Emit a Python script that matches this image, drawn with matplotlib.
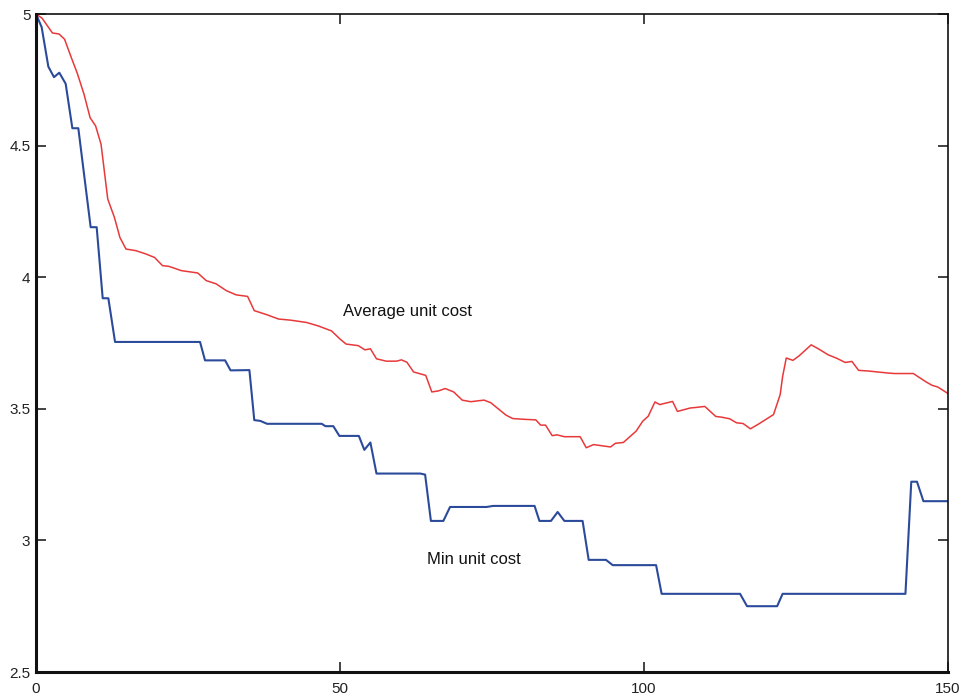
import matplotlib
matplotlib.use("Agg")
import matplotlib.pyplot as plt

plt.rcParams['font.family'] = ['Liberation Sans', 'DejaVu Sans']

# Average unit cost (red)
avg_x = [0, 1.0, 2.7, 3.8, 4.7, 5.7, 6.8, 7.9, 8.9, 9.8, 10.7, 11.8, 12.9, 13.8, 14.8,
         16.4, 18.1, 19.5, 20.8, 21.9, 23.9, 26.6, 28.0, 29.6, 31.3, 32.9, 34.8, 35.9,
         37.9, 39.9, 41.8, 44.5, 46.4, 48.6, 50.0, 51.0, 53.0, 54.1, 55.0, 56.0, 57.6,
         59.3, 60.1, 61.0, 62.1, 64.1, 65.1, 66.2, 67.3, 68.7, 70.1, 71.5, 73.7, 74.8,
         77.3, 78.4, 80.3, 82.2, 83.0, 83.8, 84.9, 85.7, 86.9, 89.5, 90.5, 91.7, 94.5,
         95.3, 96.6, 98.7, 99.8, 100.7, 101.8, 102.6, 104.7, 105.5, 107.6, 108.5, 110.0,
         111.8, 112.8, 114.1, 115.2, 116.3, 117.5, 118.7, 120.0, 121.3, 122.4, 122.8,
         123.4, 124.5, 125.5, 127.5, 128.6, 130.3, 131.7, 133.1, 134.2, 135.3, 136.7,
         138.4, 140.1, 141.2, 144.3, 146.4, 147.4, 148.3, 150.0]
avg_y = [5.0, 4.984, 4.928, 4.924, 4.904, 4.841, 4.774, 4.695, 4.606, 4.575, 4.505,
         4.297, 4.227, 4.151, 4.107, 4.101, 4.088, 4.075, 4.044, 4.041, 4.025, 4.016,
         3.987, 3.975, 3.949, 3.933, 3.927, 3.873, 3.858, 3.841, 3.837, 3.828, 3.815,
         3.796, 3.765, 3.746, 3.740, 3.724, 3.728, 3.690, 3.681, 3.681, 3.686, 3.677,
         3.640, 3.627, 3.564, 3.568, 3.577, 3.564, 3.533, 3.527, 3.533, 3.523, 3.476,
         3.463, 3.460, 3.458, 3.438, 3.438, 3.398, 3.401, 3.394, 3.394, 3.352, 3.364,
         3.355, 3.369, 3.372, 3.415, 3.453, 3.472, 3.526, 3.516, 3.528, 3.490, 3.503,
         3.505, 3.509, 3.471, 3.468, 3.462, 3.447, 3.444, 3.424, 3.440, 3.459, 3.478,
         3.554, 3.623, 3.693, 3.684, 3.701, 3.743, 3.729, 3.705, 3.692, 3.676, 3.680,
         3.646, 3.644, 3.640, 3.636, 3.634, 3.634, 3.602, 3.589, 3.583, 3.558]

# Min unit cost (blue)
min_x = [0, 0.93, 2.03, 2.96, 3.83, 4.88, 5.98, 6.96, 8.99, 9.98, 10.97, 11.9, 13.0,
         26.98, 27.8, 31.1, 32.0, 35.1, 35.9, 36.9, 38.0, 47.0, 47.6, 48.9, 49.9, 53.1,
         54.0, 55.0, 56.0, 63.2, 64.0, 64.95, 67.0, 68.1, 74.1, 75.2, 82.0, 82.8, 84.7,
         85.8, 86.9, 89.9, 90.9, 93.75, 94.85, 101.99, 102.9, 115.8, 116.95, 121.9,
         122.8, 143.0, 143.96, 144.9, 145.96, 150.0]
min_y = [5.0, 4.95, 4.80, 4.76, 4.777, 4.735, 4.566, 4.566, 4.19, 4.19, 3.92, 3.92,
         3.754, 3.754, 3.684, 3.684, 3.646, 3.647, 3.457, 3.454, 3.443, 3.443, 3.434,
         3.434, 3.397, 3.397, 3.344, 3.372, 3.254, 3.254, 3.25, 3.074, 3.074, 3.127,
         3.127, 3.131, 3.131, 3.074, 3.074, 3.108, 3.074, 3.074, 2.926, 2.926, 2.906,
         2.906, 2.797, 2.797, 2.75, 2.75, 2.797, 2.797, 3.223, 3.223, 3.149, 3.149]

x_ticks = [0, 50, 100, 150]
y_ticks = [2.5, 3, 3.5, 4, 4.5, 5]
y_tick_labels = ['2.5', '3', '3.5', '4', '4.5', '5']

fig = plt.figure(figsize=(9.67, 6.97), dpi=100)
ax = fig.add_axes([36/967, 1-672/697, (948-36)/967, (672-14)/697])

ax.plot(avg_x, avg_y, color='#e8393a', lw=1.1)
ax.plot(min_x, min_y, color='#2b4b9a', lw=1.5)

ax.set_xlim(0, 150)
ax.set_ylim(2.5, 5)
ax.set_xticks(x_ticks)
ax.set_xticklabels([str(t) for t in x_ticks])
ax.set_yticks(y_ticks)
ax.set_yticklabels(y_tick_labels)
ax.tick_params(direction='in', length=7.5, width=1.2, labelsize=11, colors='#222222',
               top=True, right=True, labelcolor='#222222')
ax.tick_params(axis='x', pad=7)
ax.tick_params(axis='y', pad=4)
ax.spines['left'].set_linewidth(2.2)
ax.spines['bottom'].set_linewidth(2.2)
ax.spines['top'].set_linewidth(1.2)
ax.spines['right'].set_linewidth(1.2)
for s in ax.spines.values():
    s.set_color('#111111')

ax.text(50.5, 3.868, 'Average unit cost', fontsize=12, ha='left', va='center', color='#111111')
ax.text(64.3, 2.926, 'Min unit cost', fontsize=12, ha='left', va='center', color='#111111')

fig.savefig('out.png', dpi=100)
